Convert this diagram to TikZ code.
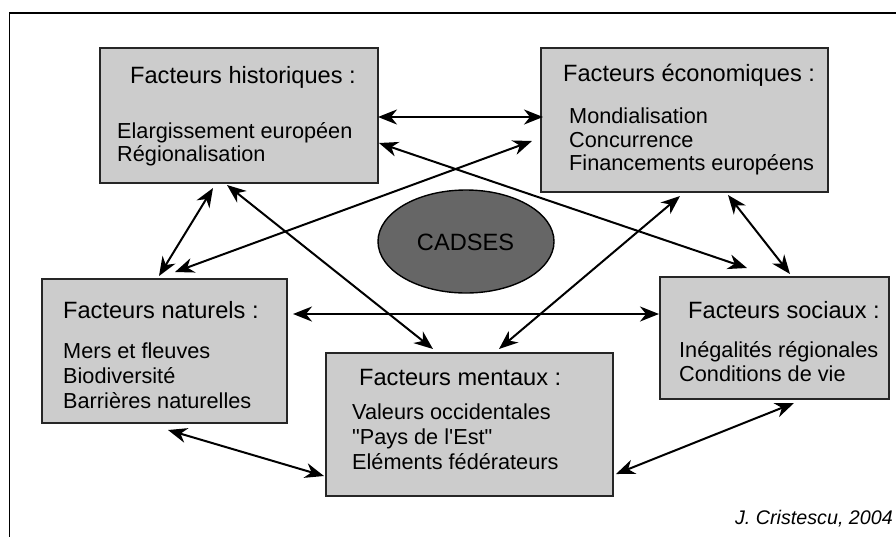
\documentclass[tikz,border=0pt]{standalone}
\usepackage{fontspec}
\setmainfont{Liberation Sans}
\newfontfamily\plainsans{Liberation Sans}
\usetikzlibrary{arrows.meta,shapes.geometric}
\definecolor{boxfill}{HTML}{CCCCCC}
\definecolor{boxline}{HTML}{262626}
\definecolor{ellfill}{HTML}{666666}
\tikzset{
  box/.style={draw=boxline, fill=boxfill, line width=2.2pt, inner sep=0pt, rectangle},
  ttl/.style={anchor=base west, inner sep=0pt, font=\plainsans\fontsize{23.6}{26}\selectfont},
  itm/.style={anchor=base west, inner sep=0pt, font=\plainsans\fontsize{21.7}{24}\selectfont},
  link/.style={{Stealth[length=19pt,width=15pt,inset=6pt]}-{Stealth[length=19pt,width=15pt,inset=6pt]}, line width=2pt, black},
}
\begin{document}
\begin{tikzpicture}[x=1pt,y=-1pt]
\useasboundingbox (0,0) rectangle (896,536);
\fill[white] (0,0) rectangle (896,536);
\draw[line width=1.8pt] (9.5,540) -- (9.5,13) -- (900,13);

% boxes
\node[box, minimum width=278pt, minimum height=135pt] (hist) at (239,115.5) {};
\node[box, minimum width=287pt, minimum height=144pt] (eco) at (684.5,120) {};
\node[box, minimum width=245pt, minimum height=144pt] (nat) at (164.5,351) {};
\node[box, minimum width=287pt, minimum height=143pt] (ment) at (469.5,424.5) {};
\node[box, minimum width=229pt, minimum height=122pt] (soc) at (774.5,338) {};

% ellipse
\node[ellipse, draw=black, fill=ellfill, line width=1.4pt, minimum width=176pt, minimum height=103pt, inner sep=0pt] (cad) at (466,241.5) {};
\node[anchor=base, inner sep=0pt, font=\plainsans\fontsize{23.6}{26}\selectfont] (cadt) at (465.5,250) {CADSES};

% texts
\node[ttl] (h0) at (130,83) {Facteurs historiques :};
\node[itm] (h1) at (117,138) {Elargissement européen};
\node[itm] (h2) at (117,161) {Régionalisation};

\node[ttl] (e0) at (563,81) {Facteurs économiques :};
\node[itm] (e1) at (569,123) {Mondialisation};
\node[itm] (e2) at (569,147) {Concurrence};
\node[itm] (e3) at (569,170) {Financements européens};

\node[ttl] (n0) at (63,318) {Facteurs naturels :};
\node[itm] (n1) at (63,358) {Mers et fleuves};
\node[itm] (n2) at (63,383) {Biodiversité};
\node[itm] (n3) at (63,408) {Barrières naturelles};

\node[ttl] (m0) at (359,385) {Facteurs mentaux :};
\node[itm] (m1) at (352,419) {Valeurs occidentales};
\node[itm] (m2) at (352,444) {"Pays de l'Est"};
\node[itm] (m3) at (352,469) {Eléments fédérateurs};

\node[ttl] (s0) at (688,318) {Facteurs sociaux :};
\node[itm] (s1) at (679,357) {Inégalités régionales};
\node[itm] (s2) at (679,381) {Conditions de vie};

\node[anchor=base east, inner sep=0pt, font=\plainsans\fontsize{19.7}{22}\selectfont\itshape] (cred) at (893,524) {J. Cristescu, 2004};

% connector ends
\coordinate (a1) at (378,117);  \coordinate (b1) at (543,117);
\coordinate (a2) at (379,143);  \coordinate (b2) at (747,268);
\coordinate (a3) at (532,141);  \coordinate (b3) at (175,272);
\coordinate (a4) at (213,188);  \coordinate (b4) at (159,276);
\coordinate (a5) at (227,185);  \coordinate (b5) at (433,349);
\coordinate (a6) at (680,196);  \coordinate (b6) at (499,349);
\coordinate (a7) at (728,195);  \coordinate (b7) at (790,274);
\coordinate (a8) at (293,314);  \coordinate (b8) at (659,314);
\coordinate (a9) at (168,430);  \coordinate (b9) at (324,476);
\coordinate (a10) at (616,474); \coordinate (b10) at (794,403);

\draw[link] (a1) -- (b1);
\draw[link] (a2) -- (b2);
\draw[link] (a3) -- (b3);
\draw[link] (a4) -- (b4);
\draw[link] (a5) -- (b5);
\draw[link] (a6) -- (b6);
\draw[link] (a7) -- (b7);
\draw[link] (a8) -- (b8);
\draw[link] (a9) -- (b9);
\draw[link] (a10) -- (b10);
\end{tikzpicture}
\end{document}
